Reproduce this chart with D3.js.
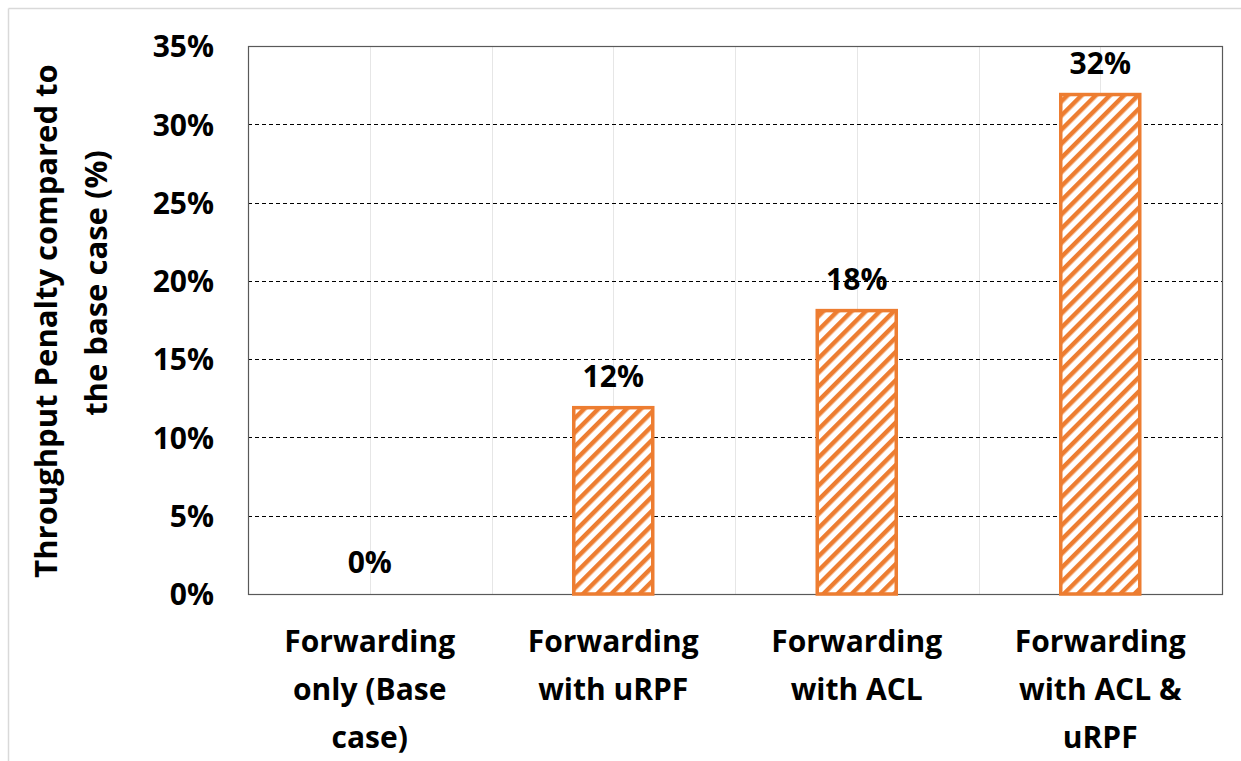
<!DOCTYPE html>
<html><head><meta charset="utf-8">
<script src="https://cdn.jsdelivr.net/npm/d3@7"></script>
<style>body{margin:0;background:#fff}svg{display:block}text{font-family:"Open Sans",sans-serif;font-weight:bold;fill:#000}</style>
</head><body>
<script>
const categories = [
  ["Forwarding", "only (Base", "case)"],
  ["Forwarding", "with uRPF"],
  ["Forwarding", "with ACL"],
  ["Forwarding", "with ACL &", "uRPF"]
];
const values = [0, 0.119, 0.181, 0.319];
const yTicks = [0, 0.05, 0.10, 0.15, 0.20, 0.25, 0.30, 0.35];
const yTitleLines = ["Throughput Penalty compared to", "the base case (%)"];

(function(){
const W = 1241, H = 761;
const mLeft = 248, mRight = 1222, mTop = 46, mBottom = 594;
const FS = 30;
const svg = d3.select("body").append("svg").attr("width", W).attr("height", H);

// outer frame
svg.append("line").attr("x1",8.5).attr("y1",8.5).attr("x2",W).attr("y2",8.5).attr("stroke","#d9d9d9").attr("stroke-width",1.5);
svg.append("line").attr("x1",8.5).attr("y1",8.5).attr("x2",8.5).attr("y2",H).attr("stroke","#d9d9d9").attr("stroke-width",1.5);

const idx = categories.map((d,i)=>i);
const x = d3.scaleBand().domain(idx).range([mLeft, mRight]).paddingInner(0).paddingOuter(0);
const y = d3.scaleLinear().domain([0, 0.35]).range([mBottom, mTop]);

const defs = svg.append("defs");
const pat = defs.append("pattern").attr("id","hatch").attr("patternUnits","userSpaceOnUse")
  .attr("width",10).attr("height",10).attr("patternTransform","rotate(45)");
pat.append("rect").attr("width",10).attr("height",10).attr("fill","#fff");
pat.append("rect").attr("x",0).attr("y",0).attr("width",4.5).attr("height",10).attr("fill","#ED7D31");

// vertical light gridlines: centers and boundaries
const vlines = [];
idx.forEach(i => { vlines.push(x(i) + x.bandwidth()/2); if (i>0) vlines.push(x(i)); });
svg.append("g").selectAll("line").data(vlines).join("line")
  .attr("x1",d=>Math.round(d)+0.5).attr("x2",d=>Math.round(d)+0.5).attr("y1",mTop).attr("y2",mBottom)
  .attr("stroke","#e6e6e6").attr("stroke-width",1);

// horizontal dashed gridlines
svg.append("g").selectAll("line").data(yTicks.filter(t=>t>0 && t<0.35)).join("line")
  .attr("x1",mLeft).attr("x2",mRight).attr("y1",d=>Math.round(y(d))+0.5).attr("y2",d=>Math.round(y(d))+0.5)
  .attr("stroke","#000").attr("stroke-width",1).attr("stroke-dasharray","4,3");

// plot frame
svg.append("rect").attr("x",mLeft+0.5).attr("y",mTop+0.5).attr("width",mRight-mLeft).attr("height",mBottom-mTop)
  .attr("fill","none").attr("stroke","#595959").attr("stroke-width",1.2);

// y axis ticks
const yAxis = d3.axisLeft(y).tickValues(yTicks).tickFormat(d3.format(".0%")).tickSize(0).tickPadding(0);
const ga = svg.append("g").attr("transform",`translate(214,0)`).call(yAxis);
ga.select(".domain").remove();
ga.selectAll("text").attr("font-size",FS).attr("font-family","'Open Sans',sans-serif").attr("font-weight","bold").attr("fill","#000").attr("dy","0.36em");

// bars
const bw = 79;
svg.append("g").selectAll("rect").data(values.map((v,i)=>({v,i})).filter(d=>d.v>0)).join("rect")
  .attr("x",d=>x(d.i)+x.bandwidth()/2-bw/2).attr("width",bw)
  .attr("y",d=>y(d.v)).attr("height",d=>y(0)-y(d.v))
  .attr("fill","url(#hatch)").attr("stroke","#ED7D31").attr("stroke-width",3.5);

// value labels
svg.append("g").selectAll("text").data(values.map((v,i)=>({v,i}))).join("text")
  .attr("x",d=>x(d.i)+x.bandwidth()/2).attr("y",d=>y(d.v)-21)
  .attr("text-anchor","middle").attr("font-size",FS)
  .text(d=>d3.format(".0%")(d.v));

// x labels
const xl = svg.append("g").selectAll("text").data(categories.map((c,i)=>({c,i}))).join("text")
  .attr("text-anchor","middle").attr("font-size",FS)
  .attr("x",d=>x(d.i)+x.bandwidth()/2);
xl.selectAll("tspan").data(d=>d.c.map(t=>({t,x:x(d.i)+x.bandwidth()/2}))).join("tspan")
  .attr("x",d=>d.x).attr("y",(d,j)=>652+j*48).text(d=>d.t);

// y title
svg.append("text").attr("transform","translate(57,321) rotate(-90)").attr("text-anchor","middle").attr("font-size",31).text(yTitleLines[0]);
svg.append("text").attr("transform","translate(107,283) rotate(-90)").attr("text-anchor","middle").attr("font-size",31).text(yTitleLines[1]);
})();
</script>
</body></html>
